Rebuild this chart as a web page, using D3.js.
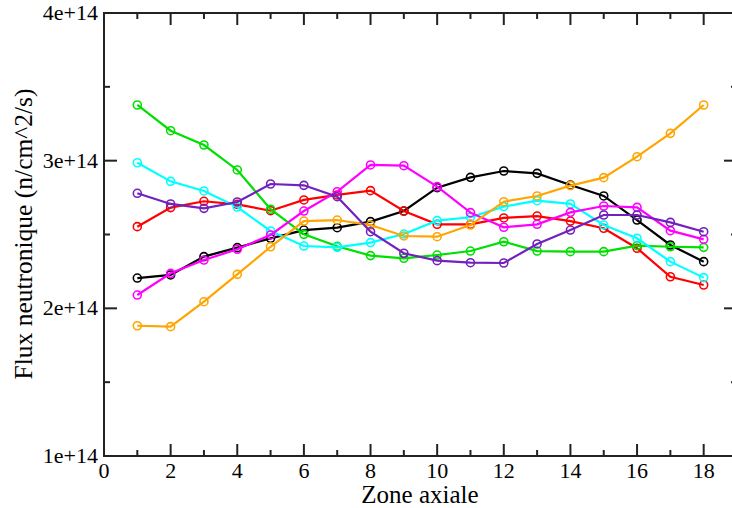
<!DOCTYPE html>
<html>
<head>
<meta charset="utf-8">
<script src="https://cdn.jsdelivr.net/npm/d3@7"></script>
<style>
  body { margin: 0; background: #fff; }
  svg { display: block; }
</style>
</head>
<body>
<svg width="732" height="508"></svg>
<script>
let width = 732;
let height = 508;
const serif = "'Liberation Serif', 'DejaVu Serif', 'Times New Roman', serif";

// zones axiales 1..18
const zones = d3.range(1, 19);

// flux (x 1e14 n/cm^2/s)
const fluxNoir    = [2.205, 2.226, 2.350, 2.411, 2.474, 2.530, 2.546, 2.587, 2.659, 2.817, 2.887, 2.930, 2.914, 2.835, 2.761, 2.598, 2.429, 2.316];
const fluxRouge   = [2.553, 2.682, 2.725, 2.704, 2.661, 2.734, 2.768, 2.797, 2.659, 2.569, 2.569, 2.612, 2.625, 2.591, 2.542, 2.407, 2.214, 2.158];
const fluxVert    = [3.377, 3.203, 3.106, 2.937, 2.671, 2.501, 2.420, 2.357, 2.339, 2.361, 2.388, 2.451, 2.388, 2.384, 2.384, 2.425, 2.417, 2.413];
const fluxCyan    = [2.986, 2.860, 2.795, 2.686, 2.524, 2.422, 2.413, 2.445, 2.503, 2.594, 2.617, 2.689, 2.729, 2.707, 2.564, 2.474, 2.316, 2.208];
const fluxMagenta = [2.090, 2.237, 2.327, 2.400, 2.497, 2.659, 2.790, 2.971, 2.966, 2.824, 2.648, 2.549, 2.569, 2.650, 2.693, 2.684, 2.526, 2.467];
const fluxOrange  = [1.882, 1.876, 2.045, 2.230, 2.417, 2.591, 2.598, 2.564, 2.490, 2.485, 2.564, 2.722, 2.761, 2.831, 2.885, 3.027, 3.185, 3.377];
const fluxIndigo  = [2.779, 2.707, 2.677, 2.720, 2.842, 2.833, 2.756, 2.519, 2.373, 2.323, 2.309, 2.307, 2.436, 2.530, 2.632, 2.632, 2.582, 2.519];

const series = [
  { color: "#000000", values: fluxNoir },
  { color: "#ff0000", values: fluxRouge },
  { color: "#00e000", values: fluxVert },
  { color: "#00ffff", values: fluxCyan },
  { color: "#ff00ff", values: fluxMagenta },
  { color: "#ffa500", values: fluxOrange },
  { color: "#7221bc", values: fluxIndigo }
];

const xTicks = [0, 2, 4, 6, 8, 10, 12, 14, 16, 18];
const yTicks = [1e14, 2e14, 3e14, 4e14];
const yLabels = ["1e+14", "2e+14", "3e+14", "4e+14"];

const margin = { left: 104, top: 13, right: -5, bottom: 52 };

const x = d3.scaleLinear().domain([0, 19]).range([margin.left, width - margin.right]);
const y = d3.scaleLinear().domain([1e14, 4e14]).range([height - margin.bottom, margin.top]);

const svg = d3.select("svg");

// cadre
const frame = svg.append("g");
frame.append("rect")
  .attr("x", x(0)).attr("y", y(4e14))
  .attr("width", x(19) - x(0)).attr("height", y(1e14) - y(4e14))
  .attr("fill", "none").attr("stroke", "#222").attr("stroke-width", 2);

// ticks (vers l'interieur, sur les 4 cotes)
const xMinor = d3.range(1, 19, 2);
const yMinor = [1.5e14, 2.5e14, 3.5e14];
function tickLines(vals, len, axis) {
  vals.forEach(v => {
    if (axis === "x") {
      frame.append("line").attr("x1", x(v)).attr("x2", x(v)).attr("y1", y(1e14)).attr("y2", y(1e14) - len);
      frame.append("line").attr("x1", x(v)).attr("x2", x(v)).attr("y1", y(4e14)).attr("y2", y(4e14) + len);
    } else {
      frame.append("line").attr("y1", y(v)).attr("y2", y(v)).attr("x1", x(0)).attr("x2", x(0) + len);
      frame.append("line").attr("y1", y(v)).attr("y2", y(v)).attr("x1", x(19)).attr("x2", x(19) - len);
    }
  });
}
tickLines(xTicks, 12, "x");
tickLines(xMinor, 6, "x");
tickLines(yTicks, 13, "y");
tickLines(yMinor, 6, "y");
frame.selectAll("line").attr("stroke", "#222").attr("stroke-width", 2);

// labels des ticks
svg.append("g").selectAll("text")
  .data(xTicks).enter().append("text")
  .attr("x", d => x(d)).attr("y", y(1e14) + 22)
  .attr("text-anchor", "middle").attr("font-size", 22)
  .attr("font-family", serif)
  .text(d => d);

svg.append("g").selectAll("text")
  .data(yTicks).enter().append("text")
  .attr("x", x(0) - 6).attr("y", d => y(d) + 7)
  .attr("text-anchor", "end").attr("font-size", 22)
  .attr("font-family", serif)
  .text((d, i) => yLabels[i]);

// titres des axes
svg.append("text")
  .attr("x", 420).attr("y", 503)
  .attr("text-anchor", "middle").attr("font-size", 25)
  .attr("font-family", serif)
  .text("Zone axiale");

svg.append("text")
  .attr("transform", "translate(32," + 234 + ") rotate(-90)")
  .attr("text-anchor", "middle").attr("font-size", 25.5)
  .attr("font-family", serif)
  .text("Flux neutronique (n/cm^2/s)");

// courbes
const line = d3.line()
  .x((d, i) => x(zones[i]))
  .y(d => y(d * 1e14));

const groups = svg.append("g").selectAll("g")
  .data(series).enter().append("g");

groups.append("path")
  .attr("d", d => line(d.values))
  .attr("fill", "none")
  .attr("stroke", d => d.color)
  .attr("stroke-width", 2.2);

groups.each(function (s) {
  d3.select(this).selectAll("circle")
    .data(s.values).enter().append("circle")
    .attr("cx", (d, i) => x(zones[i]))
    .attr("cy", d => y(d * 1e14))
    .attr("r", 4)
    .attr("fill", "none")
    .attr("stroke", s.color)
    .attr("stroke-width", 1.6);
});
</script>
</body>
</html>
